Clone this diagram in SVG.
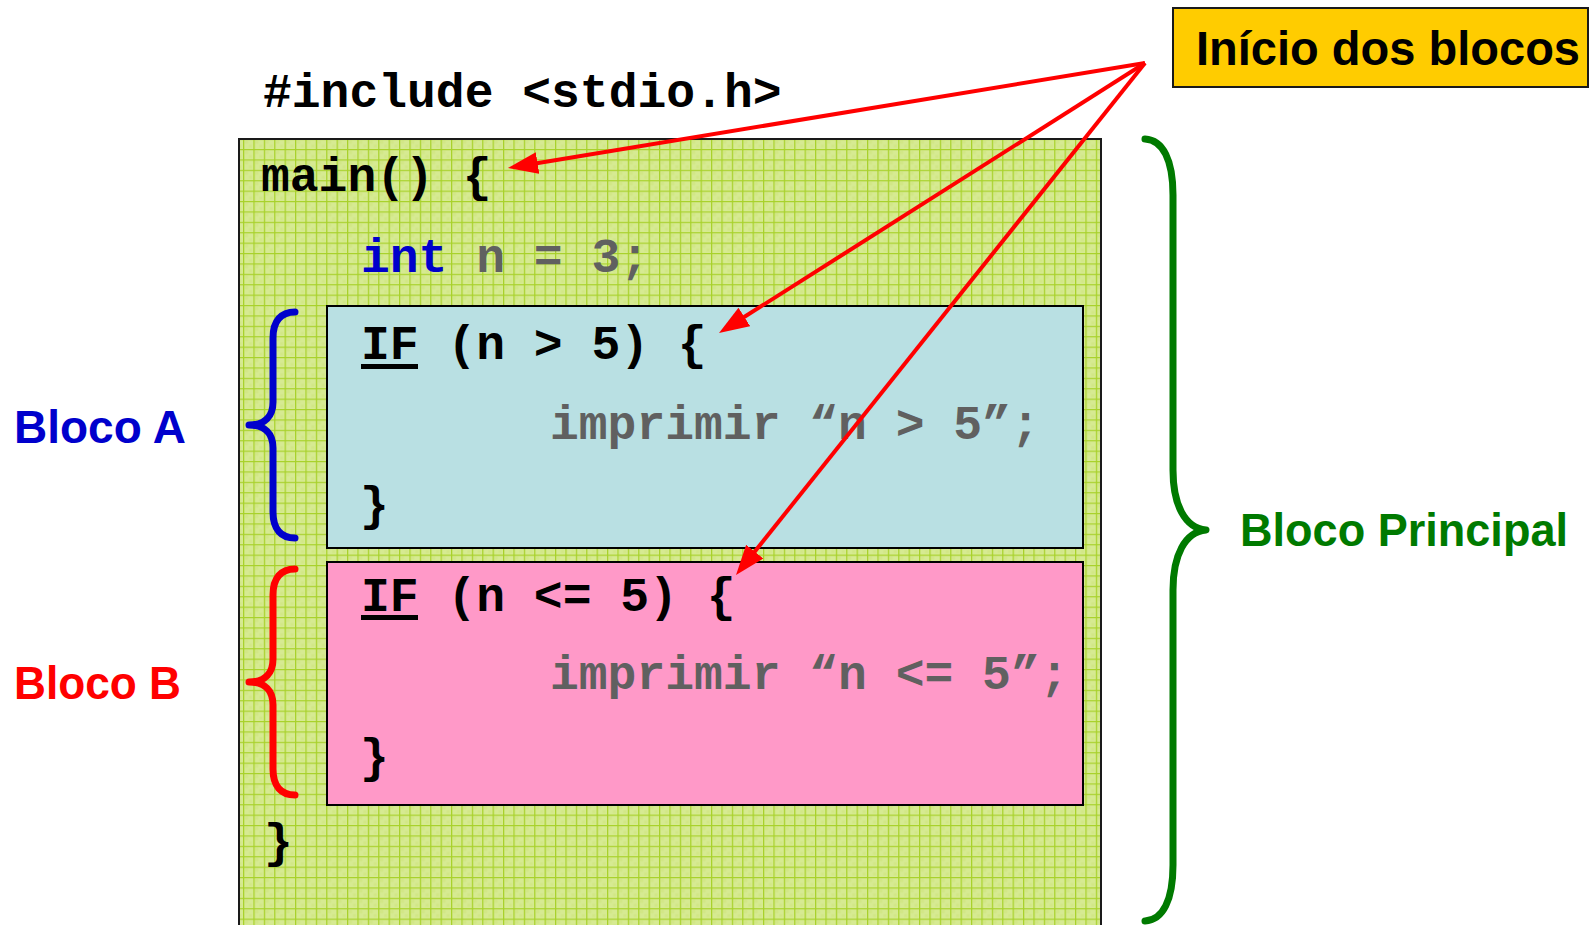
<svg xmlns="http://www.w3.org/2000/svg" width="1593" height="925" viewBox="0 0 1593 925">
<defs>
<pattern id="grid" patternUnits="userSpaceOnUse" x="243" y="149" width="10.4" height="10.4">
<rect width="10.4" height="10.4" fill="#d6ea92"/>
<rect x="2" y="2" width="3" height="3" fill="#cfe57f" opacity="0.6"/>
<rect x="6" y="6" width="3" height="3" fill="#cfe57f" opacity="0.6"/>
<path d="M0,0.6 H10.4 M0.6,0 V10.4" stroke="#a8d12a" stroke-width="1.3" fill="none"/>
</pattern>
<marker id="ah" markerUnits="userSpaceOnUse" markerWidth="32" markerHeight="24" refX="10" refY="11" orient="auto">
<path d="M0,0 L30,11 L0,22 z" fill="#ff0000"/>
</marker>
<style>
.code{font-family:"Liberation Mono","Courier New",monospace;font-weight:bold;font-size:48px}
.blk{fill:#000000}
.gray{fill:#606060}
.kw{fill:#0000cc}
.lbl{font-family:"Liberation Sans",Arial,sans-serif;font-weight:bold}
.arrow{stroke:#ff0000;stroke-width:4;fill:none;marker-end:url(#ah)}
.brace{fill:none;stroke-width:7;stroke-linecap:round;stroke-linejoin:round}
</style>
</defs>
<rect width="1593" height="925" fill="#ffffff"/>

<g id="include">
<text class="code blk" x="263" y="107">#include &lt;stdio.h&gt;</text>
</g>

<g id="main-block">
<rect x="239" y="139" width="862" height="820" fill="url(#grid)" stroke="#1a1a1a" stroke-width="2"/>
<text class="code blk" x="261" y="191">main() {</text>
<text class="code" x="361" y="272"><tspan class="kw">int</tspan><tspan class="gray"> n = 3;</tspan></text>
<text class="code blk" x="264" y="857">}</text>
</g>

<g id="bloco-a-box">
<rect x="327" y="306" width="756" height="242" fill="#b9e0e3" stroke="#000000" stroke-width="2"/>
<text class="code blk" x="361" y="359">IF (n &gt; 5) {</text>
<rect x="361" y="364" width="57" height="5" fill="#000000"/>
<text class="code gray" x="550" y="439">imprimir “n &gt; 5”;</text>
<text class="code blk" x="360" y="520">}</text>
</g>

<g id="bloco-b-box">
<rect x="327" y="562" width="756" height="243" fill="#ff99c8" stroke="#000000" stroke-width="2"/>
<text class="code blk" x="361" y="611">IF (n &lt;= 5) {</text>
<rect x="361" y="615" width="57" height="5" fill="#000000"/>
<text class="code gray" x="550" y="689">imprimir “n &lt;= 5”;</text>
<text class="code blk" x="360" y="772">}</text>
</g>

<g id="inicio-label">
<rect x="1173" y="8" width="415" height="79" fill="#ffcc00" stroke="#1a1a1a" stroke-width="2"/>
<text class="lbl" x="1196" y="65" font-size="48" textLength="384" lengthAdjust="spacingAndGlyphs" fill="#000000">Início dos blocos</text>
</g>

<g id="bloco-a-label">
<path class="brace" stroke="#0000cc" d="M295,312 C281,312 273,321 273,338 L273,402 C273,416 265,425 249,425 C265,425 273,434 273,448 L273,512 C273,529 281,538 295,538"/>
<text class="lbl" x="14" y="443" font-size="46" textLength="172" lengthAdjust="spacingAndGlyphs" fill="#0000cc">Bloco A</text>
</g>

<g id="bloco-b-label">
<path class="brace" stroke="#ff0000" d="M295,569 C281,569 273,578 273,595 L273,659 C273,673 265,682 249,682 C265,682 273,691 273,705 L273,769 C273,786 281,795 295,795"/>
<text class="lbl" x="14" y="699" font-size="46" textLength="167" lengthAdjust="spacingAndGlyphs" fill="#ff0000">Bloco B</text>
</g>

<g id="bloco-principal-label">
<path class="brace" stroke="#007a00" d="M1145,139 C1163,140 1173,160 1173,195 L1173,470 C1173,505 1185,528 1206,530 C1185,532 1173,555 1173,590 L1173,865 C1173,900 1163,920 1145,921"/>
<text class="lbl" x="1240" y="546" font-size="46" textLength="328" lengthAdjust="spacingAndGlyphs" fill="#007a00">Bloco Principal</text>
</g>

<g id="connectors">
<line class="arrow" x1="1145" y1="63" x2="527.7" y2="164.7"/>
<line class="arrow" x1="1145" y1="63" x2="735.9" y2="322.3"/>
<line class="arrow" x1="1145" y1="63" x2="748.5" y2="559.4"/>
</g>
</svg>
